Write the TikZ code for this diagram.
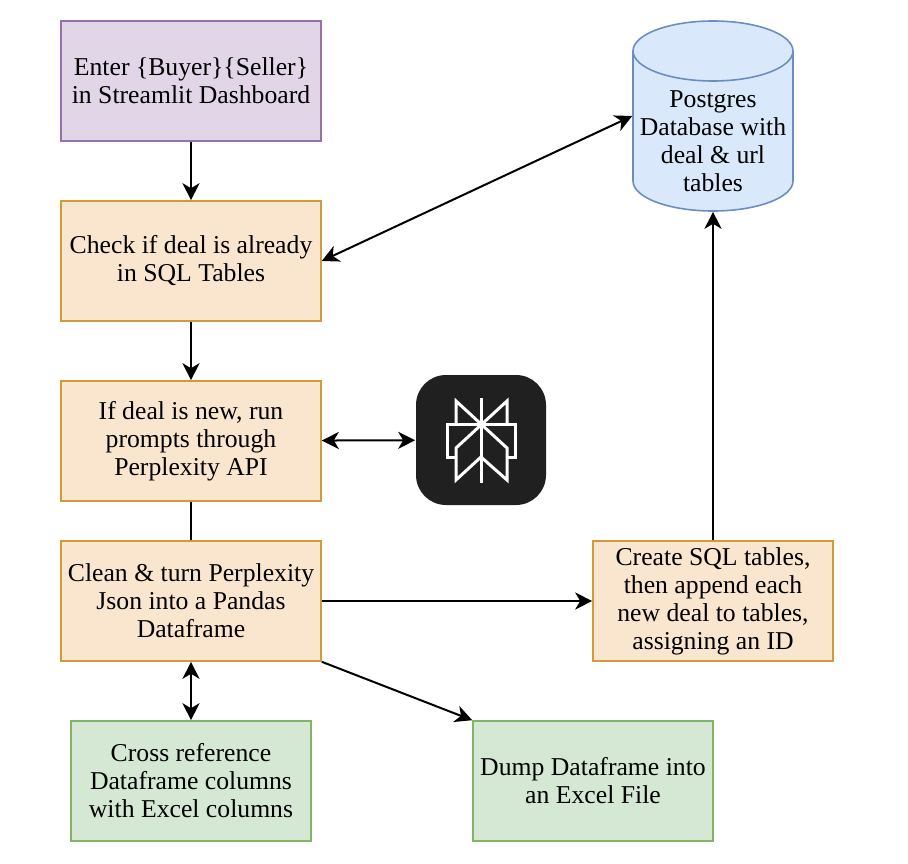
\documentclass[tikz,border=0pt]{standalone}
\usepackage{fontspec}
\setmainfont{Liberation Serif}
\usetikzlibrary{positioning,arrows.meta}
\definecolor{purplefill}{HTML}{E1D5E7}
\definecolor{purpleline}{HTML}{9673A6}
\definecolor{orangefill}{HTML}{FAE5CF}
\definecolor{orangeline}{HTML}{D09C3A}
\definecolor{greenfill}{HTML}{D5E8D4}
\definecolor{greenline}{HTML}{82B366}
\definecolor{bluefill}{HTML}{DAE8FC}
\definecolor{blueline}{HTML}{6C8EBF}
\definecolor{logodark}{HTML}{202020}
\tikzset{
  x=1pt, y=-1pt,
  font=\fontsize{25.7}{28}\selectfont,
  every node/.style={align=center, inner sep=0pt, line width=1.6pt},
  flow/.style={line width=2pt, -{Stealth[length=17pt,width=17pt,inset=5pt]}},
  both/.style={line width=2pt, {Stealth[length=17pt,width=17pt,inset=5pt]}-{Stealth[length=17pt,width=17pt,inset=5pt]}},
  stepbox/.style={draw, rectangle, minimum width=260pt, minimum height=120pt},
  inputbox/.style={stepbox, fill=purplefill, draw=purpleline},
  taskbox/.style={stepbox, fill=orangefill, draw=orangeline},
  outbox/.style={stepbox, minimum width=240pt, fill=greenfill, draw=greenline},
  logoline/.style={draw=white, line width=3pt},
}
\begin{document}
\begin{tikzpicture}
    \useasboundingbox (0,0) rectangle (908,864);
    % left column
    \node[inputbox] (enter) at (191,81) {Enter \{Buyer\}\{Seller\}\\in Streamlit Dashboard};
    \node[taskbox] (check) at (191,261) {Check if deal is already\\in SQL Tables};
    \node[taskbox] (prompt) at (191,441) {If deal is new, run\\prompts through\\Perplexity API};
    \node[taskbox] (clean) at (191,601) {Clean \& turn Perplexity\\Json into a Pandas\\Dataframe};
    \node[outbox] (cross) at (191,781) {Cross reference\\Dataframe columns\\with Excel columns};
    \node[outbox] (dump) at (593,781) {Dump Dataframe into\\an Excel File};
    \node[taskbox, minimum width=240pt] (create) at (713,601) {Create SQL tables,\\then append each\\new deal to tables,\\assigning an ID};
    % database
    \draw[draw=blueline, fill=bluefill, line width=1.6pt] (633,51) arc[start angle=180, end angle=0, x radius=80pt, y radius=30pt]
        -- (793,181) arc[start angle=0, end angle=-180, x radius=80pt, y radius=30pt] -- cycle;
    \draw[draw=blueline, line width=1.6pt] (633,51) arc[start angle=180, end angle=360, x radius=80pt, y radius=30pt];
    \node[minimum width=160pt, minimum height=190pt] (db) at (713,116) {};
    \node (dbtext) at (713,141) {Postgres\\Database with\\deal \& url\\tables};
    % logo
    \node[fill=logodark, rectangle, rounded corners=30pt, minimum width=130pt, minimum height=130pt] (logo) at (481,440) {};
    \begin{scope}[shift={(481,440)}]
        \draw[logoline] (0,-42) -- (0,43);
        \draw[logoline] (-25,-16) -- (-25,-39) -- (26,8) -- (26,40) -- (0,17) -- (-25,40) -- (-25,8) -- (26,-39) -- (26,-16);
        \draw[logoline] (-25,17) -- (-34,17) -- (-34,-16) -- (34,-16) -- (34,17) -- (26,17);
    \end{scope}
    % connectors
    \draw[flow] (enter) -- (check);
    \draw[flow] (check) -- (prompt);
    \draw[line width=2pt] (prompt) -- (clean);
    \draw[both] (clean) -- (cross);
    \draw[both] (check.east) -- (db.west);
    \draw[both] (prompt) -- (logo);
    \draw[flow] (clean) -- (create);
    \draw[flow] (create) -- (db);
    \draw[flow] (clean.south east) -- (dump.north west);
\end{tikzpicture}
\end{document}
